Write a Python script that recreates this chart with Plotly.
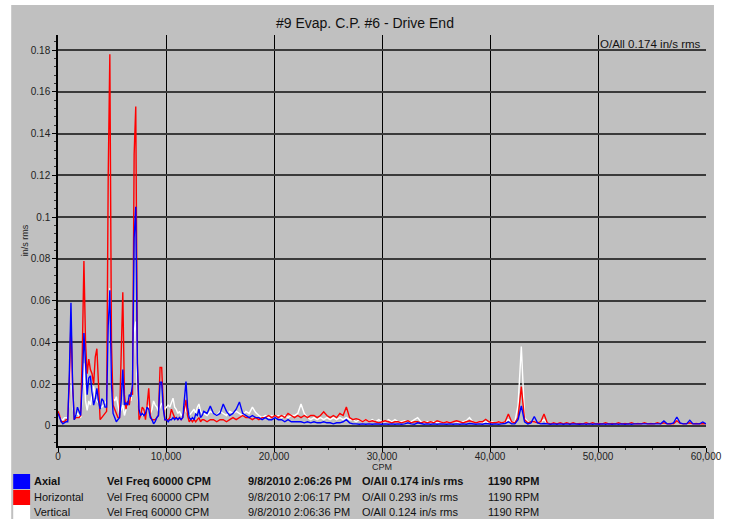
import plotly.graph_objects as go

# ---------------- data ----------------
# frequency bins (CPM): 150 CPM resolution to 13,350 then 300 CPM to 60,000
freq = list(range(0, 13500, 150)) + list(range(13500, 60001, 300))

axial_lo = [0.006, 0.004, 0.002, 0.001, 0.0015, 0.002, 0.002, 0.025, 0.059, 0.02,
            0.003, 0.005, 0.009, 0.007, 0.005, 0.02, 0.0445, 0.03, 0.015, 0.023,
            0.024, 0.016, 0.01, 0.013, 0.018, 0.012, 0.008, 0.013, 0.012, 0.009,
            0.009, 0.048, 0.065, 0.02, 0.006, 0.004, 0.002, 0.003, 0.004, 0.012,
            0.027, 0.01, 0.011, 0.01, 0.015, 0.014, 0.02, 0.09, 0.105, 0.03,
            0.008, 0.005, 0.006, 0.005, 0.006, 0.009, 0.008, 0.004, 0.003, 0.001,
            0.002, 0.004, 0.005, 0.021, 0.021, 0.008, 0.003, 0.003, 0.002, 0.003,
            0.003, 0.004, 0.003, 0.004, 0.003, 0.004, 0.003, 0.004, 0.012, 0.0213,
            0.009, 0.004, 0.003, 0.004, 0.003, 0.0057, 0.005, 0.008, 0.004, 0.005]
axial_hi = [0.007, 0.006, 0.0095, 0.006, 0.005, 0.006, 0.0105, 0.007, 0.005, 0.006,
            0.008, 0.0115, 0.006, 0.005, 0.004, 0.005, 0.004, 0.004, 0.003, 0.004,
            0.003, 0.003, 0.004, 0.003, 0.003, 0.002, 0.003, 0.002, 0.002, 0.002,
            0.002, 0.0015, 0.002, 0.0015, 0.002, 0.0015, 0.0015, 0.002, 0.0015, 0.0015,
            0.001, 0.0015, 0.0015, 0.002, 0.003, 0.0015, 0.001, 0.001, 0.0008, 0.001,
            0.0008, 0.001, 0.0008, 0.001, 0.0008, 0.0008, 0.001, 0.0008, 0.001, 0.0008,
            0.001, 0.0008, 0.001, 0.0015, 0.001, 0.0008, 0.0015, 0.001, 0.0008, 0.001,
            0.0008, 0.001, 0.0008, 0.001, 0.0008, 0.0008, 0.001, 0.0008, 0.001, 0.0008,
            0.001, 0.0008, 0.0012, 0.001, 0.0008, 0.001, 0.0008, 0.0012, 0.001, 0.0008,
            0.001, 0.0008, 0.001, 0.0012, 0.002, 0.001, 0.001, 0.003, 0.0096, 0.002,
            0.001, 0.0015, 0.0045, 0.0015, 0.001, 0.0012, 0.001, 0.0008, 0.001, 0.0008,
            0.001, 0.0008, 0.001, 0.0008, 0.001, 0.0008, 0.0008, 0.001, 0.0008, 0.001,
            0.0008, 0.001, 0.0008, 0.001, 0.0008, 0.001, 0.0008, 0.001, 0.0008, 0.001,
            0.0008, 0.001, 0.0008, 0.001, 0.001, 0.0008, 0.001, 0.0008, 0.001, 0.0008,
            0.001, 0.001, 0.0024, 0.001, 0.001, 0.0015, 0.0043, 0.0015, 0.001, 0.001,
            0.0027, 0.001, 0.001, 0.001, 0.0019, 0.001]

horiz_lo = [0.007, 0.005, 0.002, 0.002, 0.002, 0.003, 0.003, 0.02, 0.05, 0.02,
            0.003, 0.004, 0.004, 0.004, 0.005, 0.035, 0.079, 0.04, 0.025, 0.032,
            0.027, 0.025, 0.02, 0.033, 0.037, 0.015, 0.003, 0.004, 0.005, 0.006,
            0.007, 0.12, 0.178, 0.04, 0.01, 0.008, 0.006, 0.004, 0.004, 0.03,
            0.064, 0.015, 0.008, 0.012, 0.01, 0.016, 0.015, 0.13, 0.153, 0.03,
            0.003, 0.005, 0.009, 0.008, 0.003, 0.01, 0.018, 0.005, 0.003, 0.003,
            0.003, 0.004, 0.005, 0.028, 0.028, 0.01, 0.003, 0.003, 0.003, 0.004,
            0.008, 0.006, 0.004, 0.004, 0.003, 0.004, 0.003, 0.004, 0.008, 0.0125,
            0.005, 0.002, 0.003, 0.002, 0.003, 0.002, 0.003, 0.004, 0.002, 0.003]
horiz_hi = [0.003, 0.002, 0.003, 0.003, 0.002, 0.003, 0.003, 0.002, 0.003, 0.004,
            0.003, 0.004, 0.005, 0.004, 0.004, 0.003, 0.004, 0.003, 0.004, 0.004,
            0.005, 0.004, 0.005, 0.004, 0.005, 0.004, 0.006, 0.005, 0.004, 0.005,
            0.004, 0.005, 0.004, 0.005, 0.005, 0.004, 0.005, 0.0068, 0.005, 0.004,
            0.005, 0.004, 0.006, 0.005, 0.0091, 0.004, 0.003, 0.0035, 0.003, 0.002,
            0.003, 0.002, 0.0025, 0.002, 0.0015, 0.002, 0.0025, 0.002, 0.0015, 0.002,
            0.002, 0.0015, 0.002, 0.0025, 0.0015, 0.002, 0.002, 0.0015, 0.002, 0.0015,
            0.002, 0.0015, 0.0025, 0.002, 0.0015, 0.002, 0.0015, 0.002, 0.0025, 0.002,
            0.0015, 0.002, 0.0025, 0.002, 0.0015, 0.002, 0.002, 0.0032, 0.002, 0.0015,
            0.0015, 0.002, 0.0015, 0.002, 0.0057, 0.002, 0.0015, 0.004, 0.0188, 0.003,
            0.0015, 0.002, 0.002, 0.0015, 0.002, 0.0057, 0.0015, 0.001, 0.0015, 0.001,
            0.0015, 0.001, 0.0015, 0.001, 0.0015, 0.001, 0.0012, 0.001, 0.0015, 0.001,
            0.0015, 0.001, 0.0012, 0.001, 0.0015, 0.001, 0.0012, 0.001, 0.0015, 0.001,
            0.0012, 0.001, 0.0015, 0.001, 0.0012, 0.001, 0.0015, 0.001, 0.0012, 0.001,
            0.0015, 0.001, 0.0015, 0.001, 0.0012, 0.001, 0.0025, 0.0012, 0.001, 0.0012,
            0.0015, 0.001, 0.0012, 0.001, 0.0012, 0.001]

vert_lo = [0.006, 0.005, 0.003, 0.003, 0.004, 0.004, 0.004, 0.015, 0.035, 0.012,
           0.004, 0.005, 0.006, 0.005, 0.004, 0.015, 0.03, 0.012, 0.0075, 0.012,
           0.01, 0.015, 0.019, 0.013, 0.012, 0.011, 0.01, 0.009, 0.01, 0.011,
           0.012, 0.05, 0.066, 0.02, 0.013, 0.012, 0.014, 0.01, 0.006, 0.008,
           0.01, 0.005, 0.008, 0.01, 0.014, 0.012, 0.02, 0.045, 0.05, 0.015,
           0.008, 0.006, 0.005, 0.007, 0.006, 0.01, 0.009, 0.006, 0.008, 0.012,
           0.01, 0.009, 0.007, 0.009, 0.011, 0.009, 0.008, 0.009, 0.01, 0.009,
           0.011, 0.0133, 0.009, 0.008, 0.006, 0.007, 0.005, 0.006, 0.01, 0.007,
           0.006, 0.005, 0.006, 0.007, 0.008, 0.006, 0.009, 0.0105, 0.007, 0.006]
vert_hi = [0.006, 0.005, 0.007, 0.006, 0.005, 0.007, 0.006, 0.005, 0.007, 0.006,
           0.007, 0.006, 0.005, 0.007, 0.006, 0.009, 0.0064, 0.005, 0.004, 0.005,
           0.004, 0.005, 0.004, 0.005, 0.004, 0.005, 0.004, 0.005, 0.005, 0.006,
           0.0105, 0.006, 0.004, 0.003, 0.004, 0.003, 0.004, 0.003, 0.004, 0.003,
           0.004, 0.003, 0.004, 0.003, 0.004, 0.003, 0.003, 0.002, 0.003, 0.002,
           0.003, 0.002, 0.003, 0.002, 0.003, 0.002, 0.002, 0.003, 0.002, 0.003,
           0.002, 0.002, 0.0025, 0.002, 0.002, 0.003, 0.004, 0.002, 0.0015, 0.002,
           0.0015, 0.002, 0.0015, 0.002, 0.0015, 0.002, 0.0015, 0.002, 0.002, 0.0015,
           0.002, 0.0025, 0.004, 0.002, 0.0015, 0.002, 0.0015, 0.002, 0.0015, 0.002,
           0.0015, 0.002, 0.0015, 0.002, 0.003, 0.002, 0.002, 0.01, 0.038, 0.004,
           0.002, 0.0015, 0.002, 0.0015, 0.002, 0.003, 0.0015, 0.001, 0.0015, 0.001,
           0.0012, 0.001, 0.0012, 0.001, 0.0012, 0.001, 0.0012, 0.001, 0.0012, 0.001,
           0.0012, 0.001, 0.0012, 0.001, 0.0012, 0.001, 0.0012, 0.001, 0.0012, 0.001,
           0.0012, 0.001, 0.0012, 0.001, 0.0012, 0.001, 0.0012, 0.001, 0.0012, 0.001,
           0.0012, 0.001, 0.0018, 0.001, 0.0012, 0.001, 0.003, 0.0012, 0.001, 0.0012,
           0.002, 0.001, 0.0012, 0.001, 0.0015, 0.001]

axial = axial_lo + axial_hi
horizontal = horiz_lo + horiz_hi
vertical = vert_lo + vert_hi

series_names = ["Axial", "Horizontal", "Vertical"]
series_colors = ["#0000ff", "#ff0000", "#ffffff"]
series_desc = ["Vel Freq 60000 CPM"] * 3
series_dates = ["9/8/2010 2:06:26 PM", "9/8/2010 2:06:17 PM", "9/8/2010 2:06:36 PM"]
series_oall = ["O/All 0.174 in/s rms", "O/All 0.293 in/s rms", "O/All 0.124 in/s rms"]
series_rpm = ["1190 RPM"] * 3

title_text = "#9 Evap. C.P. #6 - Drive End"
oall_text = "O/All 0.174 in/s rms"

# ---------------- layout geometry ----------------
W, H = 734, 519
L, R, T, B = 58, 709, 35, 446  # plot area in pixels
pw, ph = R - L, B - T


def px(x):
    return (x - L) / pw


def py(y):
    return (B - y) / ph


FONT = "Arial, Liberation Sans, sans-serif"

fig = go.Figure()
for name, vals, col in [("Vertical", vertical, "#ffffff"),
                        ("Horizontal", horizontal, "#ff0000"),
                        ("Axial", axial, "#0000ff")]:
    fig.add_trace(go.Scatter(x=freq, y=vals, mode="lines", name=name,
                             line=dict(color=col, width=1.4), showlegend=False))

shapes = [
    # gray panel
    dict(type="rect", xref="paper", yref="paper", x0=px(11), x1=px(717),
         y0=py(519), y1=py(5), fillcolor="#c0c0c0", line=dict(width=0), layer="below"),
]
annotations = [
    dict(text=title_text, xref="paper", yref="paper", x=px(366), y=py(23),
         xanchor="center", yanchor="middle", showarrow=False,
         font=dict(family=FONT, size=14, color="#111")),
    dict(text=oall_text, xref="paper", yref="paper", x=px(706), y=py(44),
         xanchor="right", yanchor="middle", showarrow=False,
         font=dict(family=FONT, size=11.5, color="#111")),
    dict(text="in/s rms", xref="paper", yref="paper", x=px(25), y=py(240),
         xanchor="center", yanchor="middle", showarrow=False, textangle=-90,
         font=dict(family=FONT, size=9, color="#222")),
    dict(text="CPM", xref="paper", yref="paper", x=px(383), y=py(467),
         xanchor="center", yanchor="middle", showarrow=False,
         font=dict(family=FONT, size=9, color="#222")),
]

row_y = [481, 497, 512]
row_top = [474, 490, 505]
row_bot = [489, 505, 519]
col_x = [32, 105, 247, 361, 488]
for i in range(3):
    shapes.append(dict(type="rect", xref="paper", yref="paper", x0=px(13), x1=px(30),
                       y0=py(row_bot[i]), y1=py(row_top[i]),
                       fillcolor=series_colors[i], line=dict(width=0)))
    texts = [series_names[i], series_desc[i], series_dates[i], series_oall[i], series_rpm[i]]
    for cx, t in zip(col_x, texts):
        annotations.append(dict(
            text=("<b>%s</b>" % t) if i == 0 else t, xref="paper", yref="paper",
            x=px(cx), y=py(row_y[i]), xanchor="left", yanchor="middle", showarrow=False,
            font=dict(family=FONT, size=11, color="#111")))

fig.update_layout(
    width=W, height=H,
    margin=dict(l=L, r=W - R, t=T, b=H - B, pad=0),
    paper_bgcolor="#ffffff", plot_bgcolor="#c0c0c0",
    shapes=shapes, annotations=annotations,
    font=dict(family=FONT, size=10, color="#222"),
    xaxis=dict(range=[0, 60000], tick0=0, dtick=10000, tickformat=",d",
               showgrid=True, gridcolor="#000000", gridwidth=1,
               showline=True, linecolor="#000000", linewidth=1.5,
               ticks="outside", ticklen=4, tickcolor="#000", zeroline=False,
               ticklabelstandoff=-4,
               tickfont=dict(size=10, color="#222"),
               minor=dict(dtick=2500, ticks="outside", ticklen=2, tickcolor="#333", showgrid=False)),
    yaxis=dict(range=[-0.0096, 0.1872], tick0=0, dtick=0.02,
               showgrid=True, gridcolor="#3a3a3a", gridwidth=1.6,
               showline=True, linecolor="#000000", linewidth=1.5,
               ticks="outside", ticklen=4, tickcolor="#000", zeroline=False,
               tickfont=dict(size=10, color="#222"),
               minor=dict(dtick=0.004, ticks="outside", ticklen=2, tickcolor="#333", showgrid=False)),
)

fig.write_html("out.html", config={"displayModeBar": False},
               post_script="document.body.style.margin='0px';document.body.style.overflow='hidden';")
